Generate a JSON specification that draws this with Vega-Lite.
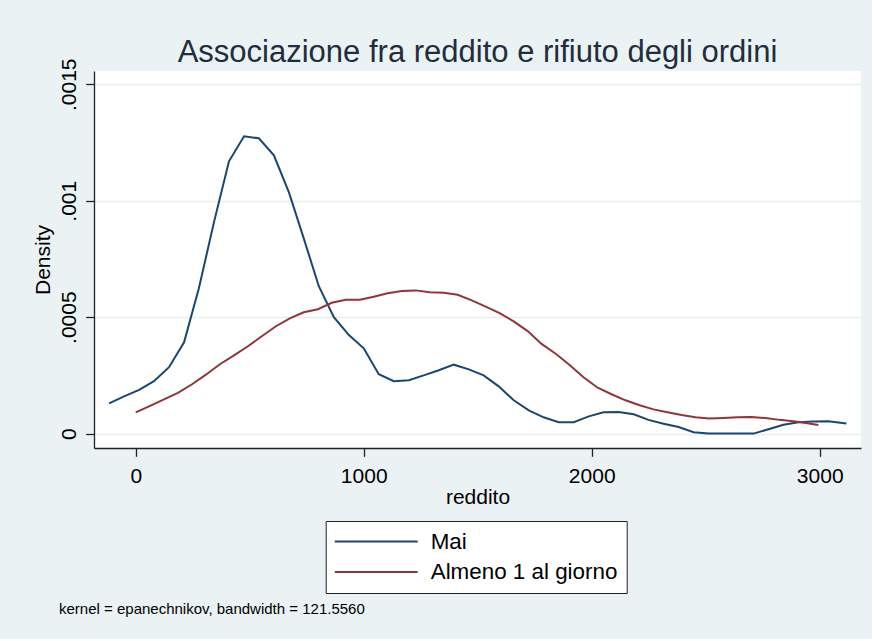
{
  "$schema": "https://vega.github.io/schema/vega-lite/v6.json",
  "background": "#eaf2f3",
  "padding": {"left": 32, "top": 36, "right": 11, "bottom": 22},
  "title": {
    "text": "kernel = epanechnikov, bandwidth = 121.5560",
    "orient": "bottom",
    "anchor": "start",
    "frame": "group",
    "font": "Liberation Sans",
    "fontSize": 15,
    "fontWeight": "normal",
    "color": "#000000",
    "offset": 8,
    "dx": -35,
    "baseline": "top"
  },
  "resolve": {"scale": {"color": "independent"}},
  "vconcat": [
    {
      "width": 767,
      "height": 377,
      "title": {
        "text": "Associazione fra reddito e rifiuto degli ordini",
        "font": "Liberation Sans",
        "fontSize": 31,
        "fontWeight": "normal",
        "color": "#1f2d3d",
        "anchor": "middle",
        "frame": "group",
        "baseline": "alphabetic",
        "offset": -34.7
      },
      "data": {
        "values": [
          {"gruppo": "Mai", "reddito": -117, "densita": 0.000130},
          {"gruppo": "Mai", "reddito": -51, "densita": 0.000160},
          {"gruppo": "Mai", "reddito": 15, "densita": 0.000188},
          {"gruppo": "Mai", "reddito": 80, "densita": 0.000225},
          {"gruppo": "Mai", "reddito": 146, "densita": 0.000285},
          {"gruppo": "Mai", "reddito": 212, "densita": 0.000392},
          {"gruppo": "Mai", "reddito": 277, "densita": 0.000624},
          {"gruppo": "Mai", "reddito": 343, "densita": 0.000907},
          {"gruppo": "Mai", "reddito": 409, "densita": 0.001169},
          {"gruppo": "Mai", "reddito": 475, "densita": 0.001277},
          {"gruppo": "Mai", "reddito": 540, "densita": 0.001268},
          {"gruppo": "Mai", "reddito": 606, "densita": 0.001195},
          {"gruppo": "Mai", "reddito": 672, "densita": 0.001036},
          {"gruppo": "Mai", "reddito": 738, "densita": 0.000835},
          {"gruppo": "Mai", "reddito": 803, "densita": 0.000633},
          {"gruppo": "Mai", "reddito": 869, "densita": 0.000500},
          {"gruppo": "Mai", "reddito": 935, "densita": 0.000423},
          {"gruppo": "Mai", "reddito": 1000, "densita": 0.000366},
          {"gruppo": "Mai", "reddito": 1066, "densita": 0.000255},
          {"gruppo": "Mai", "reddito": 1132, "densita": 0.000225},
          {"gruppo": "Mai", "reddito": 1198, "densita": 0.000229},
          {"gruppo": "Mai", "reddito": 1263, "densita": 0.000250},
          {"gruppo": "Mai", "reddito": 1329, "densita": 0.000272},
          {"gruppo": "Mai", "reddito": 1395, "densita": 0.000296},
          {"gruppo": "Mai", "reddito": 1461, "densita": 0.000276},
          {"gruppo": "Mai", "reddito": 1526, "densita": 0.000250},
          {"gruppo": "Mai", "reddito": 1592, "densita": 0.000203},
          {"gruppo": "Mai", "reddito": 1658, "densita": 0.000143},
          {"gruppo": "Mai", "reddito": 1724, "densita": 0.000100},
          {"gruppo": "Mai", "reddito": 1789, "densita": 0.000070},
          {"gruppo": "Mai", "reddito": 1855, "densita": 0.000049},
          {"gruppo": "Mai", "reddito": 1921, "densita": 0.000049},
          {"gruppo": "Mai", "reddito": 1987, "densita": 0.000074},
          {"gruppo": "Mai", "reddito": 2052, "densita": 0.000092},
          {"gruppo": "Mai", "reddito": 2118, "densita": 0.000093},
          {"gruppo": "Mai", "reddito": 2184, "densita": 0.000083},
          {"gruppo": "Mai", "reddito": 2249, "densita": 0.000059},
          {"gruppo": "Mai", "reddito": 2315, "densita": 0.000042},
          {"gruppo": "Mai", "reddito": 2381, "densita": 0.000028},
          {"gruppo": "Mai", "reddito": 2447, "densita": 0.000006},
          {"gruppo": "Mai", "reddito": 2512, "densita": 0.0},
          {"gruppo": "Mai", "reddito": 2578, "densita": 0.0},
          {"gruppo": "Mai", "reddito": 2644, "densita": 0.0},
          {"gruppo": "Mai", "reddito": 2710, "densita": 0.0},
          {"gruppo": "Mai", "reddito": 2775, "densita": 0.000019},
          {"gruppo": "Mai", "reddito": 2841, "densita": 0.000038},
          {"gruppo": "Mai", "reddito": 2907, "densita": 0.000049},
          {"gruppo": "Mai", "reddito": 2972, "densita": 0.000052},
          {"gruppo": "Mai", "reddito": 3038, "densita": 0.000053},
          {"gruppo": "Mai", "reddito": 3117, "densita": 0.000043},
          {"gruppo": "Almeno 1 al giorno", "reddito": 0, "densita": 0.0000915},
          {"gruppo": "Almeno 1 al giorno", "reddito": 63, "densita": 0.000119},
          {"gruppo": "Almeno 1 al giorno", "reddito": 124, "densita": 0.000147},
          {"gruppo": "Almeno 1 al giorno", "reddito": 185, "densita": 0.000175},
          {"gruppo": "Almeno 1 al giorno", "reddito": 247, "densita": 0.000212},
          {"gruppo": "Almeno 1 al giorno", "reddito": 308, "densita": 0.000253},
          {"gruppo": "Almeno 1 al giorno", "reddito": 369, "densita": 0.000298},
          {"gruppo": "Almeno 1 al giorno", "reddito": 431, "densita": 0.000336},
          {"gruppo": "Almeno 1 al giorno", "reddito": 492, "densita": 0.000375},
          {"gruppo": "Almeno 1 al giorno", "reddito": 553, "densita": 0.000418},
          {"gruppo": "Almeno 1 al giorno", "reddito": 615, "densita": 0.000461},
          {"gruppo": "Almeno 1 al giorno", "reddito": 676, "densita": 0.000495},
          {"gruppo": "Almeno 1 al giorno", "reddito": 737, "densita": 0.000521},
          {"gruppo": "Almeno 1 al giorno", "reddito": 799, "densita": 0.000534},
          {"gruppo": "Almeno 1 al giorno", "reddito": 860, "densita": 0.000562},
          {"gruppo": "Almeno 1 al giorno", "reddito": 921, "densita": 0.000575},
          {"gruppo": "Almeno 1 al giorno", "reddito": 983, "densita": 0.000575},
          {"gruppo": "Almeno 1 al giorno", "reddito": 1044, "densita": 0.000588},
          {"gruppo": "Almeno 1 al giorno", "reddito": 1105, "densita": 0.000603},
          {"gruppo": "Almeno 1 al giorno", "reddito": 1167, "densita": 0.000612},
          {"gruppo": "Almeno 1 al giorno", "reddito": 1228, "densita": 0.000615},
          {"gruppo": "Almeno 1 al giorno", "reddito": 1289, "densita": 0.000607},
          {"gruppo": "Almeno 1 al giorno", "reddito": 1351, "densita": 0.000605},
          {"gruppo": "Almeno 1 al giorno", "reddito": 1412, "densita": 0.000596},
          {"gruppo": "Almeno 1 al giorno", "reddito": 1474, "densita": 0.000572},
          {"gruppo": "Almeno 1 al giorno", "reddito": 1535, "densita": 0.000545},
          {"gruppo": "Almeno 1 al giorno", "reddito": 1596, "densita": 0.000517},
          {"gruppo": "Almeno 1 al giorno", "reddito": 1658, "densita": 0.000482},
          {"gruppo": "Almeno 1 al giorno", "reddito": 1719, "densita": 0.000440},
          {"gruppo": "Almeno 1 al giorno", "reddito": 1780, "densita": 0.000385},
          {"gruppo": "Almeno 1 al giorno", "reddito": 1842, "densita": 0.000343},
          {"gruppo": "Almeno 1 al giorno", "reddito": 1903, "densita": 0.000295},
          {"gruppo": "Almeno 1 al giorno", "reddito": 1964, "densita": 0.000242},
          {"gruppo": "Almeno 1 al giorno", "reddito": 2026, "densita": 0.000197},
          {"gruppo": "Almeno 1 al giorno", "reddito": 2087, "densita": 0.000169},
          {"gruppo": "Almeno 1 al giorno", "reddito": 2148, "densita": 0.000143},
          {"gruppo": "Almeno 1 al giorno", "reddito": 2210, "densita": 0.000122},
          {"gruppo": "Almeno 1 al giorno", "reddito": 2271, "densita": 0.000104},
          {"gruppo": "Almeno 1 al giorno", "reddito": 2332, "densita": 0.000092},
          {"gruppo": "Almeno 1 al giorno", "reddito": 2394, "densita": 0.000080},
          {"gruppo": "Almeno 1 al giorno", "reddito": 2455, "densita": 0.000070},
          {"gruppo": "Almeno 1 al giorno", "reddito": 2516, "densita": 0.000065},
          {"gruppo": "Almeno 1 al giorno", "reddito": 2578, "densita": 0.000067},
          {"gruppo": "Almeno 1 al giorno", "reddito": 2639, "densita": 0.000070},
          {"gruppo": "Almeno 1 al giorno", "reddito": 2700, "densita": 0.000071},
          {"gruppo": "Almeno 1 al giorno", "reddito": 2762, "densita": 0.000067},
          {"gruppo": "Almeno 1 al giorno", "reddito": 2823, "densita": 0.000059},
          {"gruppo": "Almeno 1 al giorno", "reddito": 2884, "densita": 0.000053},
          {"gruppo": "Almeno 1 al giorno", "reddito": 2946, "densita": 0.000044},
          {"gruppo": "Almeno 1 al giorno", "reddito": 2994, "densita": 0.000037}
        ]
      },
      "mark": {"type": "line", "strokeWidth": 2, "clip": false},
      "encoding": {
        "x": {
          "field": "reddito",
          "type": "quantitative",
          "title": "reddito",
          "scale": {"domain": [-183, 3181], "nice": false, "zero": false},
          "axis": {
            "values": [0, 1000, 2000, 3000],
            "format": "d",
            "grid": false,
            "labelPadding": 9,
            "titlePadding": 0,
            "labelFlush": false,
            "labelOverlap": false
          }
        },
        "y": {
          "field": "densita",
          "type": "quantitative",
          "title": "Density",
          "scale": {"domain": [-0.0000618, 0.001557], "nice": false, "zero": false},
          "axis": {
            "values": [0, 0.0005, 0.001, 0.0015],
            "labelExpr": "datum.value == 0 ? '0' : replace(toString(datum.value), '0.', '.')",
            "labelAngle": 270,
            "labelAlign": "center",
            "labelBaseline": "alphabetic",
            "labelPadding": 10,
            "grid": true,
            "gridColor": "#e6eef0",
            "gridWidth": 1.5,
            "titlePadding": 5,
            "labelFlush": false,
            "labelOverlap": false
          }
        },
        "color": {
          "field": "gruppo",
          "type": "nominal",
          "scale": {"domain": ["Mai", "Almeno 1 al giorno"], "range": ["#1a476f", "#90353b"]},
          "legend": {
            "orient": "none",
            "legendX": 231.7,
            "legendY": 450,
            "title": null,
            "direction": "vertical",
            "symbolType": "M-4,0H4",
            "symbolSize": 430,
            "symbolStrokeWidth": 2,
            "symbolOffset": 30,
            "labelFont": "Liberation Sans",
            "labelFontSize": 22.4,
            "labelColor": "#000000",
            "labelOffset": 43,
            "labelLimit": 400,
            "padding": 9,
            "rowPadding": 7.5,
            "fillColor": "#ffffff",
            "strokeColor": "#222222"
          }
        }
      }
    }
  ],
  "config": {
    "view": {"fill": "#ffffff", "stroke": null},
    "axis": {
      "labelFont": "Liberation Sans",
      "titleFont": "Liberation Sans",
      "labelFontSize": 21,
      "titleFontSize": 21,
      "labelColor": "#000000",
      "titleColor": "#000000",
      "titleFontWeight": "normal",
      "domainColor": "#222222",
      "tickColor": "#222222",
      "domainWidth": 1.3,
      "tickWidth": 1.3,
      "tickSize": 8.3
    }
  }
}
